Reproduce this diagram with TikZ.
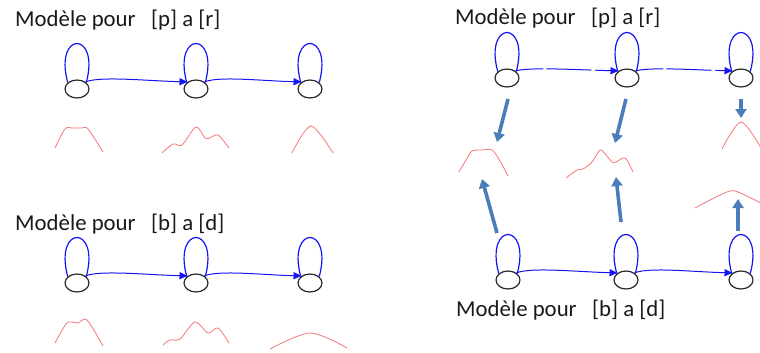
\documentclass[tikz,border=0pt]{standalone}
\usepackage{fontspec}
\setmainfont{Carlito}
\usetikzlibrary{arrows.meta,shapes.geometric}
\definecolor{stateblack}{RGB}{40,40,40}
\definecolor{thickblue}{RGB}{74,126,187}
\definecolor{curvered}{RGB}{242,120,120}
\definecolor{loopblue}{RGB}{20,20,245}
\tikzset{
 state/.style={draw=stateblack, ellipse, line width=1.2pt, minimum width=24pt, minimum height=18pt, inner sep=0pt},
 selfloop/.style={draw=loopblue, line width=1.2pt},
 trans/.style={draw=loopblue, line width=1pt, -{Triangle[width=7pt,length=8pt]}},
 gappy/.style={dash pattern=on 28pt off 3pt on 45pt off 4pt on 40pt},
 bigarrow/.style={draw=thickblue, line width=3.6pt, -{Triangle[width=11pt,length=9pt]}},
 spectrum/.style={draw=curvered, line width=0.8pt},
 title/.style={anchor=base west, font=\fontsize{22.8}{27}\selectfont, text=black!90, inner sep=0pt}
}
\newcommand\drawselfloop[1]{\draw[selfloop] (#1.145) .. controls +(-14,-52) and +(14,-52) .. (#1.35);}
\begin{document}
\begin{tikzpicture}[x=1pt,y=-1pt]
\useasboundingbox (0,0) rectangle (760,353);
% titles
\node[title] (t1) at (15,27) {Modèle pour~~~[p] a [r]};
\node[title] (t2) at (15,230) {Modèle pour~~~[b] a [d]};
\node[title] (t3) at (455,25) {Modèle pour~~~[p] a [r]};
\node[title] (t4) at (456,316) {Modèle pour~~~[b] a [d]};
% states
\node[state] (a1) at (77,89) {};
\node[state] (a2) at (196,89) {};
\node[state] (a3) at (310,89) {};
\node[state] (b1) at (77,283) {};
\node[state] (b2) at (196,283) {};
\node[state] (b3) at (310,283) {};
\node[state] (c1) at (507,78) {};
\node[state] (c2) at (627,78) {};
\node[state] (c3) at (741,78) {};
\node[state] (d1) at (508,280) {};
\node[state] (d2) at (626,280) {};
\node[state] (d3) at (741,280) {};
% self loops
\foreach \s in {a1,a2,a3,b1,b2,b3,c1,c2,c3,d1,d2,d3} {\drawselfloop{\s}}
% transitions
\draw[trans] (a1.40) .. controls +(15,-6) and +(-40,-1) .. (a2.140);
\draw[trans] (a2.40) .. controls +(15,-6) and +(-40,-1) .. (a3.140);
\draw[trans] (b1.40) .. controls +(15,-6) and +(-40,-1) .. (b2.140);
\draw[trans] (b2.40) .. controls +(15,-6) and +(-40,-1) .. (b3.140);
\draw[trans,gappy] (c1.40) .. controls +(15,-4) and +(-40,-1) .. (c2.140);
\draw[trans,gappy] (c2.40) .. controls +(15,-4) and +(-40,-1) .. (c3.140);
\draw[trans] (d1.40) .. controls +(15,-6) and +(-40,-1) .. (d2.140);
\draw[trans] (d2.40) .. controls +(15,-6) and +(-40,-1) .. (d3.140);
% spectra, left top
\draw[spectrum] plot[smooth,tension=0.5] coordinates {(55,148) (65,129) (72,128) (82,128) (88,129) (103,152)};
\draw[spectrum] plot[smooth,tension=0.5] coordinates {(162,153) (173,144) (182,145) (196,127) (205,138) (210,138) (218,135) (229,148)};
\draw[spectrum] plot[smooth,tension=0.5] coordinates {(292,153) (311,126) (333,153)};
% spectra, left bottom
\draw[spectrum] plot[smooth,tension=0.5] coordinates {(55,343) (66,324) (72,322) (78,323) (87,320) (103,346)};
\draw[spectrum] plot[smooth,tension=0.5] coordinates {(163,345) (170,340) (180,339) (195,322) (208,333) (218,328) (229,343)};
\draw[spectrum] plot[smooth,tension=0.5] coordinates {(270,349) (310,333) (347,348)};
% spectra, right
\draw[spectrum] plot[smooth,tension=0.5] coordinates {(459,172) (466,160) (472,151) (482,150) (492,150) (500,161) (508,176)};
\draw[spectrum] plot[smooth,tension=0.5] coordinates {(566,178) (577,170) (583,169) (592,162) (600,150) (606,155) (612,162) (616,162) (623,158) (627,160) (633,172)};
\draw[spectrum] plot[smooth,tension=0.5] coordinates {(722,149) (741,122) (761,148)};
\draw[spectrum] plot[smooth,tension=0.5] coordinates {(695,208) (716,197) (730,191) (738,192) (761,203)};
% thick arrows
\coordinate (p1s) at (508,99);  \coordinate (p1e) at (497,142);
\coordinate (p2s) at (626,99);  \coordinate (p2e) at (615,143);
\coordinate (p3s) at (741,99);  \coordinate (p3e) at (741,118);
\coordinate (q1s) at (497,233); \coordinate (q1e) at (482,179);
\coordinate (q2s) at (621,222); \coordinate (q2e) at (616,177);
\coordinate (q3s) at (738,231); \coordinate (q3e) at (738,199);
\draw[bigarrow] (p1s) -- (p1e);
\draw[bigarrow] (p2s) -- (p2e);
\draw[bigarrow] (p3s) -- (p3e);
\draw[bigarrow] (q1s) -- (q1e);
\draw[bigarrow] (q2s) -- (q2e);
\draw[bigarrow] (q3s) -- (q3e);
\end{tikzpicture}
\end{document}
